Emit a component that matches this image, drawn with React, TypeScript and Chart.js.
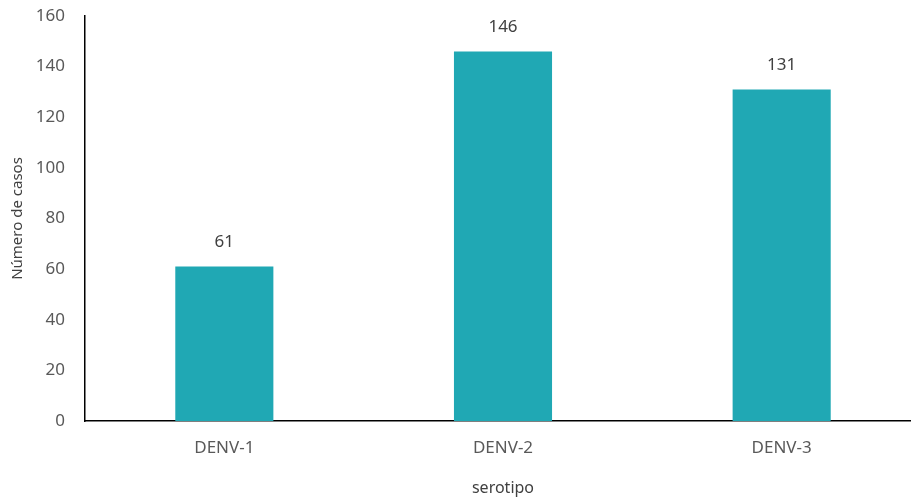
import React, { useEffect, useRef } from "react";
import { Chart, registerables } from "chart.js";

Chart.register(...registerables);

const categories = ["DENV-1", "DENV-2", "DENV-3"];
const casos = [61, 146, 131];
const yTitle = "Número de casos";
const xTitle = "serotipo";

const FONT = "'Noto Sans', sans-serif";

const valueLabels = {
  id: "valueLabels",
  afterDatasetsDraw(chart: any) {
    const ctx = chart.ctx;
    const meta = chart.getDatasetMeta(0);
    ctx.save();
    ctx.font = `17px ${FONT}`;
    ctx.fillStyle = "#404040";
    ctx.textAlign = "center";
    ctx.textBaseline = "middle";
    meta.data.forEach((bar: any, i: number) => {
      ctx.fillText(String(chart.data.datasets[0].data[i]), bar.x, bar.y - 24);
    });
    ctx.restore();
  },
};

export default function App() {
  const ref = useRef<HTMLCanvasElement | null>(null);
  useEffect(() => {
    document.body.style.margin = "0";
    const chart = new Chart(ref.current!, {
      type: "bar",
      data: {
        labels: categories,
        datasets: [
          {
            data: casos,
            backgroundColor: "#20A8B4",
            barPercentage: 0.352,
            categoryPercentage: 1,
          },
        ],
      },
      options: {
        animation: false,
        responsive: true,
        maintainAspectRatio: false,
        layout: { padding: { top: 16, left: 0, right: 0, bottom: 0 } },
        plugins: { legend: { display: false }, tooltip: { enabled: false } },
        scales: {
          x: {
            grid: { display: false, drawTicks: false },
            border: { color: "#000", width: 1.5 },
            ticks: { color: "#595959", font: { family: FONT, size: 17 }, padding: 17 },
            title: {
              display: true,
              text: xTitle,
              color: "#404040",
              font: { family: FONT, size: 16 },
              padding: { top: 0, bottom: 0 },
            },
            afterFit(scale: any) {
              scale.height = 77;
              scale.paddingLeft = 0;
              scale.paddingRight = 0;
            },
          },
          y: {
            min: 0,
            max: 160,
            grid: { display: false, drawTicks: false },
            border: { color: "#000", width: 1.5 },
            ticks: { stepSize: 20, color: "#595959", font: { family: FONT, size: 17 }, padding: 20 },
            title: {
              display: true,
              text: yTitle,
              color: "#404040",
              font: { family: FONT, size: 15 },
              padding: { top: 9, bottom: 0 },
            },
            afterFit(scale: any) {
              scale.width = 85;
              scale.paddingTop = 0;
              scale.paddingBottom = 0;
            },
          },
        },
      },
      plugins: [valueLabels],
    });
    return () => chart.destroy();
  }, []);
  return (
    <div style={{ width: 911, height: 498, overflow: "hidden", position: "relative" }}>
      <div style={{ position: "absolute", left: 0, top: 0, width: 921, height: 498 }}>
        <canvas ref={ref} />
      </div>
    </div>
  );
}
